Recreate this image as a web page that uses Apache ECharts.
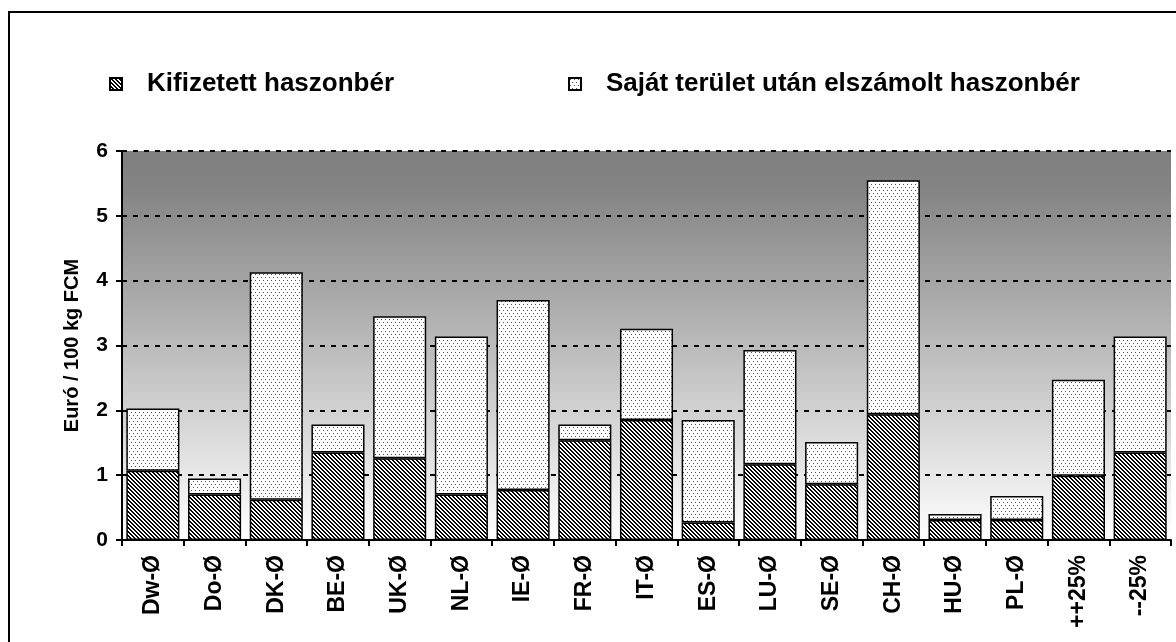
<!DOCTYPE html>
<html>
<head>
<meta charset="utf-8">
<script src="https://cdn.jsdelivr.net/npm/echarts@6/dist/echarts.min.js"></script>
<style>
  html, body { margin: 0; padding: 0; background: #fff; }
  #Chart { width: 1176px; height: 642px; }
</style>
</head>
<body>
<div id="Chart"></div>
<script>
var categories = ['Dw-Ø', 'Do-Ø', 'DK-Ø', 'BE-Ø', 'UK-Ø', 'NL-Ø', 'IE-Ø', 'FR-Ø', 'IT-Ø',
                  'ES-Ø', 'LU-Ø', 'SE-Ø', 'CH-Ø', 'HU-Ø', 'PL-Ø', '++25%', '--25%'];
// Kifizetett haszonbér (paid rent)
var paidRent = [1.07, 0.70, 0.62, 1.35, 1.26, 0.70, 0.77, 1.54, 1.85,
                0.27, 1.17, 0.86, 1.94, 0.31, 0.31, 0.99, 1.35];
// Saját terület után elszámolt haszonbér (imputed rent on own land)
var ownRent = [0.96, 0.25, 3.51, 0.43, 2.19, 2.44, 2.93, 0.24, 1.41,
               1.58, 1.76, 0.65, 3.61, 0.09, 0.37, 1.48, 1.79];
var seriesNames = ['Kifizetett haszonbér', 'Saját terület után elszámolt haszonbér'];
var yTitle = 'Euró / 100 kg FCM';

var fontFam = '"Liberation Sans", Arial, sans-serif';

// hatch pattern: diagonal "\" stripes
function hatchPattern() {
    var c = document.createElement('canvas');
    c.width = 4; c.height = 4;
    var ctx = c.getContext('2d');
    ctx.fillStyle = '#fff';
    ctx.fillRect(0, 0, 4, 4);
    ctx.fillStyle = '#000';
    for (var y = 0; y < 4; y++) {
        for (var x = 0; x < 4; x++) {
            var d = ((x - y) % 4 + 4) % 4;
            if (d === 0 || d === 1) ctx.fillRect(x, y, 1, 1);
        }
    }
    return c;
}

// dotted pattern: white with small grey dots, staggered rows
function dotPattern() {
    var c = document.createElement('canvas');
    c.width = 8; c.height = 6;
    var ctx = c.getContext('2d');
    ctx.fillStyle = '#fff';
    ctx.fillRect(0, 0, 8, 6);
    ctx.fillStyle = '#555';
    ctx.fillRect(1, 1, 1, 1);
    ctx.fillRect(5, 1, 1, 1);
    ctx.fillRect(3, 4, 1, 1);
    ctx.fillRect(7, 4, 1, 1);
    return c;
}

var myChart = echarts.init(document.getElementById('Chart'));

var legendText = {
    fontFamily: fontFam, fontWeight: 'bold', fontSize: 26, color: '#000',
    padding: [0, 0, 0, 20]
};

var option = {
    animation: false,
    backgroundColor: '#fff',
    textStyle: { fontFamily: fontFam },
    graphic: [{
        type: 'rect',
        shape: { x: 9, y: 12, width: 1300, height: 800 },
        style: { fill: 'none', stroke: '#000', lineWidth: 2 }
    }],
    legend: [{
        left: 104, top: 66,
        data: [seriesNames[0]],
        icon: 'rect', itemWidth: 12, itemHeight: 12,
        textStyle: legendText
    }, {
        left: 563, top: 66,
        data: [seriesNames[1]],
        icon: 'rect', itemWidth: 12, itemHeight: 12,
        textStyle: legendText
    }],
    grid: {
        left: 122, right: 5, top: 151, bottom: 102,
        show: true, borderWidth: 0,
        backgroundColor: {
            type: 'linear', x: 0, y: 0, x2: 0, y2: 1,
            colorStops: [{ offset: 0, color: '#7f7f7f' }, { offset: 0.1, color: '#848484' }, { offset: 1, color: '#ffffff' }]
        }
    },
    xAxis: {
        type: 'category',
        data: categories,
        axisLine: { lineStyle: { color: '#000', width: 2 } },
        axisTick: { show: true, length: 6, lineStyle: { color: '#000', width: 2 } },
        axisLabel: {
            rotate: 90, margin: 15, interval: 0,
            color: '#000', fontWeight: 'bold', fontSize: 23, fontFamily: fontFam
        }
    },
    yAxis: {
        type: 'value',
        min: 0, max: 6, interval: 1,
        name: yTitle,
        nameLocation: 'middle',
        nameGap: 40,
        nameTextStyle: { color: '#000', fontWeight: 'bold', fontSize: 20, fontFamily: fontFam },
        axisLine: { show: true, lineStyle: { color: '#000', width: 2 } },
        axisTick: { show: true, length: 6, lineStyle: { color: '#000', width: 2 } },
        axisLabel: { margin: 14, color: '#000', fontWeight: 'bold', fontSize: 21, fontFamily: fontFam },
        splitLine: { show: true, lineStyle: { color: '#000', width: 2, type: [5, 6] } }
    },
    series: [{
        name: seriesNames[0],
        type: 'bar',
        stack: 'rent',
        barCategoryGap: '14%',
        data: paidRent,
        itemStyle: {
            color: { image: hatchPattern(), repeat: 'repeat' },
            borderColor: '#000', borderWidth: 1.5
        }
    }, {
        name: seriesNames[1],
        type: 'bar',
        stack: 'rent',
        barCategoryGap: '14%',
        data: ownRent,
        itemStyle: {
            color: { image: dotPattern(), repeat: 'repeat' },
            borderColor: '#000', borderWidth: 1.5
        }
    }]
};

myChart.setOption(option);
</script>
</body>
</html>
